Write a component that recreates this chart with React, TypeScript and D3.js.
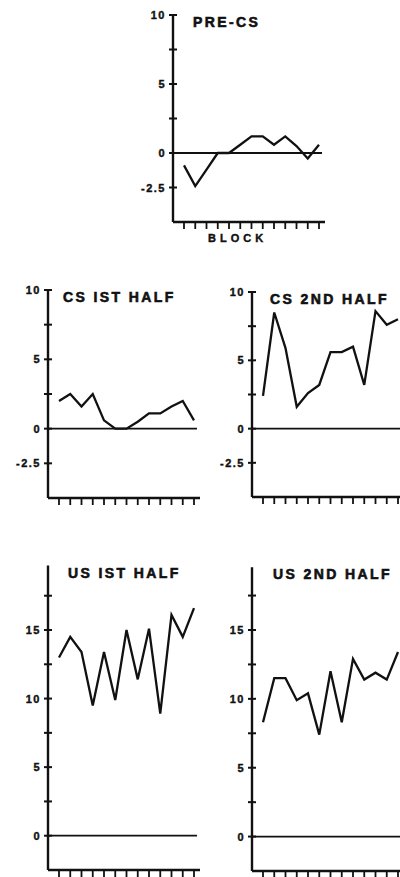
import React from "react";
import * as d3 from "d3";

// blocks along the x axis (13 per panel)
const blocks = [1, 2, 3, 4, 5, 6, 7, 8, 9, 10, 11, 12, 13];

// series values
const preCs = [-0.9, -2.4, -1.2, 0, 0, 0.6, 1.2, 1.2, 0.6, 1.2, 0.5, -0.4, 0.6];
const cs1 = [2.0, 2.5, 1.6, 2.5, 0.6, 0, 0, 0.5, 1.1, 1.1, 1.6, 2.0, 0.6];
const cs2 = [2.4, 8.5, 5.9, 1.6, 2.6, 3.2, 5.6, 5.6, 6.0, 3.2, 8.6, 7.6, 8.0];
const us1 = [13.0, 14.5, 13.4, 9.5, 13.4, 9.9, 15.0, 11.4, 15.1, 8.9, 16.1, 14.5, 16.6];
const us2 = [8.3, 11.5, 11.5, 9.9, 10.4, 7.4, 12.0, 8.3, 12.9, 11.4, 11.9, 11.4, 13.4];

// tick values
const csTicks = [-2.5, 0, 2.5, 5, 7.5, 10];
const csLabels = ["-2.5", "0", "5", "10"];
const usTicks = [0, 2.5, 5, 7.5, 10, 12.5, 15, 17.5];
const usLabels = ["0", "5", "10", "15"];

const INK = "#111";
const FONT = "'Liberation Sans', Arial, sans-serif";

type PanelProps = {
  title: string;
  values: number[];
  x0: number;
  yDomain: [number, number];
  yRange: [number, number];
  axisTop: number;
  ticks: number[];
  labels: string[];
  titleDx: number;
  block?: boolean;
};

const Panel = ({ title, values, x0, yDomain, yRange, axisTop, ticks, labels, titleDx, block }: PanelProps) => {
  const x = d3.scalePoint<number>().domain(blocks).range([x0 + 11, x0 + 146]);
  const y = d3.scaleLinear().domain(yDomain).range(yRange);
  const line = d3
    .line<number>()
    .x((_, i) => x(blocks[i]) as number)
    .y((d) => y(d));
  const bottom = y(yDomain[0]);

  return (
    <g>
      {/* y axis */}
      <line x1={x0} x2={x0} y1={y(axisTop)} y2={bottom} stroke={INK} strokeWidth={2.4} />
      {ticks.map((t) => (
        <line key={t} x1={x0 - 4} x2={x0 + 4} y1={y(t)} y2={y(t)} stroke={INK} strokeWidth={2} />
      ))}
      {ticks
        .filter((t) => labels.includes(String(t)))
        .map((t) => (
          <text
            key={"l" + t}
            x={x0 - 7}
            y={y(t) + 4}
            textAnchor="end"
            fontFamily={FONT}
            fontWeight="bold"
            fontSize={11}
            letterSpacing={1.5}
            fill={INK}
            stroke={INK}
            strokeWidth={0.4}
          >
            {String(t)}
          </text>
        ))}
      {/* x axis */}
      <line x1={x0} x2={x0 + 152} y1={bottom} y2={bottom} stroke={INK} strokeWidth={2.4} />
      {blocks.map((b) => (
        <line key={b} x1={x(b)} x2={x(b)} y1={bottom} y2={bottom + 7} stroke={INK} strokeWidth={1.8} />
      ))}
      {/* zero line */}
      <line x1={x0} x2={x0 + 149} y1={y(0)} y2={y(0)} stroke={INK} strokeWidth={1.8} />
      {/* series */}
      <path d={line(values) ?? ""} fill="none" stroke={INK} strokeWidth={2.3} strokeLinejoin="miter" />
      <text
        x={x0 + titleDx}
        y={y(axisTop) + 12}
        fontFamily={FONT}
        fontWeight="bold"
        fontSize={14}
        letterSpacing={2.4}
        fill={INK}
        stroke={INK}
        strokeWidth={0.6}
      >
        {title}
      </text>
      {block && (
        <text x={x0 + 35} y={bottom + 20} fontFamily={FONT} fontWeight="bold" fontSize={11}
          letterSpacing={4} fill={INK} stroke={INK} strokeWidth={0.4}>
          BLOCK
        </text>
      )}
    </g>
  );
};

export default function App() {
  return (
    <svg
      width={400}
      height={877}
      style={{ position: "absolute", left: 0, top: 0, background: "#fff" }}
    >
      <Panel title="PRE-CS" values={preCs} x0={173} yDomain={[-5, 10]} yRange={[222, 15]} axisTop={10}
        ticks={csTicks} labels={csLabels} titleDx={20} block />
      <Panel title="CS IST HALF" values={cs1} x0={48} yDomain={[-5, 10]} yRange={[498, 290]} axisTop={10}
        ticks={csTicks} labels={csLabels} titleDx={15} />
      <Panel title="CS 2ND HALF" values={cs2} x0={252} yDomain={[-5, 10]} yRange={[497, 292]} axisTop={10}
        ticks={csTicks} labels={csLabels} titleDx={18} />
      <Panel title="US IST HALF" values={us1} x0={48} yDomain={[-2.5, 15]} yRange={[870, 630]} axisTop={19.7}
        ticks={usTicks} labels={usLabels} titleDx={20} />
      <Panel title="US 2ND HALF" values={us2} x0={252} yDomain={[-2.5, 15]} yRange={[871, 630]} axisTop={19.55}
        ticks={usTicks} labels={usLabels} titleDx={21} />
    </svg>
  );
}
